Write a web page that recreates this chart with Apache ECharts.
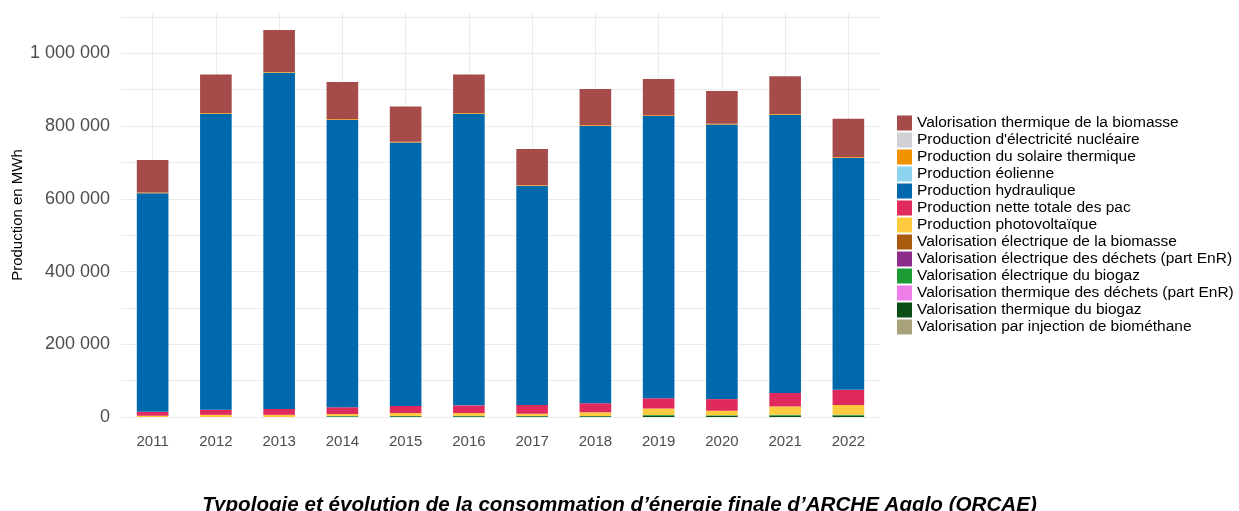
<!DOCTYPE html>
<html>
<head>
<meta charset="utf-8">
<script src="https://cdn.jsdelivr.net/npm/echarts@6/dist/echarts.min.js"></script>
<style>
  html, body { margin: 0; padding: 0; background: #ffffff; }
  #chart { width: 1239px; height: 511px; }
</style>
</head>
<body>
<div id="chart"></div>
<script>
// années
const years = ["2011", "2012", "2013", "2014", "2015", "2016", "2017", "2018", "2019", "2020", "2021", "2022"];

// valeurs en MWh
const thermiqueBiomasse = [89000, 106000, 115000, 102000, 97000, 106000, 100000, 99000, 100000, 90000, 104000, 105000];
const nucleaire = [0, 0, 0, 0, 0, 0, 0, 0, 0, 0, 0, 0];
const solaireThermique = [2000, 2000, 2000, 2000, 2000, 2000, 2000, 2000, 2000, 2000, 2000, 2000];
const eolien = [0, 0, 0, 0, 0, 0, 0, 0, 0, 0, 0, 0];
const hydraulique = [601000, 814000, 925000, 791000, 725000, 802000, 602000, 763000, 776000, 755000, 765000, 638000];
const pac = [11000, 14000, 16000, 18000, 19000, 21000, 24000, 25000, 28000, 32000, 37000, 42000];
const photovoltaique = [3500, 6000, 6000, 6000, 8000, 8000, 6000, 10000, 18000, 12500, 23000, 27000];
const electriqueBiomasse = [0, 0, 0, 0, 0, 0, 0, 0, 0, 0, 0, 0];
const electriqueDechets = [0, 0, 0, 0, 0, 0, 0, 0, 0, 0, 0, 0];
const electriqueBiogaz = [0, 0, 0, 1000, 1000, 1000, 1000, 1000, 2000, 1700, 2000, 2000];
const thermiqueDechets = [0, 0, 0, 0, 0, 0, 0, 0, 0, 0, 0, 0];
const thermiqueBiogaz = [0, 0, 0, 1500, 2000, 2000, 2000, 2000, 3500, 3000, 4000, 4000];
const injectionBiomethane = [0, 0, 0, 0, 0, 0, 0, 0, 0, 0, 0, 0];

// ordre d'empilement : du bas vers le haut
const stackSeries = [
  { name: "Valorisation par injection de biométhane", data: injectionBiomethane, color: "#A8A27A" },
  { name: "Valorisation thermique du biogaz", data: thermiqueBiogaz, color: "#0B4F16" },
  { name: "Valorisation thermique des déchets (part EnR)", data: thermiqueDechets, color: "#F07EE8" },
  { name: "Valorisation électrique du biogaz", data: electriqueBiogaz, color: "#1F9B35" },
  { name: "Valorisation électrique des déchets (part EnR)", data: electriqueDechets, color: "#8E2C8B" },
  { name: "Valorisation électrique de la biomasse", data: electriqueBiomasse, color: "#AA5A0F" },
  { name: "Production photovoltaïque", data: photovoltaique, color: "#FECB3F" },
  { name: "Production nette totale des pac", data: pac, color: "#E0295D" },
  { name: "Production hydraulique", data: hydraulique, color: "#0069AD" },
  { name: "Production éolienne", data: eolien, color: "#8DD3EE" },
  { name: "Production du solaire thermique", data: solaireThermique, color: "#F39200" },
  { name: "Production d'électricité nucléaire", data: nucleaire, color: "#D0D0D5" },
  { name: "Valorisation thermique de la biomasse", data: thermiqueBiomasse, color: "#A54B4A" },
];

function formatNombre(v) {
  return String(v).replace(/\B(?=(\d{3})+(?!\d))/g, " ");
}

const chart = echarts.init(document.getElementById("chart"));

const option = {
  animation: false,
  backgroundColor: "#ffffff",
  title: {
    text: "Typologie et évolution de la consommation d’énergie finale d’ARCHE Agglo (ORCAE)",
    left: "center",
    top: 490,
    textStyle: {
      fontFamily: "Liberation Sans, Arial, sans-serif",
      fontStyle: "italic",
      fontWeight: "bold",
      fontSize: 20.6,
      color: "#000000",
    },
  },
  legend: {
    orient: "vertical",
    left: 892,
    top: 110,
    icon: "rect",
    itemWidth: 15,
    itemHeight: 15,
    itemGap: 1,
    // légende dans l'ordre inverse de l'empilement
    data: stackSeries.map((s) => s.name).reverse(),
    textStyle: {
      fontFamily: "Liberation Sans, Arial, sans-serif",
      fontSize: 15.5,
      lineHeight: 16,
      color: "#000000",
    },
  },
  grid: {
    left: 121,
    right: 359,
    top: 13,
    bottom: 94,
    outerBoundsMode: "none",
  },
  xAxis: {
    type: "category",
    data: years,
    axisLine: { show: false },
    axisTick: { show: false, alignWithLabel: true },
    splitLine: {
      show: true,
      interval: 0,
      alignWithLabel: true,
      lineStyle: { color: "#ebebeb", width: 1 },
    },
    axisLabel: {
      margin: 17,
      fontFamily: "Liberation Sans, Arial, sans-serif",
      fontSize: 15,
      color: "#4d4d4d",
    },
  },
  yAxis: {
    type: "value",
    min: 0,
    max: 1111000,
    interval: 100000,
    name: "Production en MWh",
    nameLocation: "middle",
    nameRotate: 90,
    nameGap: 96,
    nameMoveOverlap: false,
    nameTextStyle: {
      fontFamily: "Liberation Sans, Arial, sans-serif",
      fontSize: 15,
      color: "#000000",
    },
    axisLine: { show: false },
    axisTick: { show: false },
    splitLine: {
      showMaxLine: false,
      lineStyle: { color: "#ebebeb", width: 1 },
    },
    axisLabel: {
      margin: 11,
      fontFamily: "Liberation Sans, Arial, sans-serif",
      fontSize: 18,
      color: "#4d4d4d",
      showMaxLabel: false,
      formatter: (v) => (v % 200000 === 0 ? formatNombre(v) : ""),
    },
  },
  series: stackSeries.map((s) => ({
    name: s.name,
    type: "bar",
    stack: "total",
    barWidth: "50%",
    data: s.data,
    itemStyle: { color: s.color },
  })),
};

chart.setOption(option);
</script>
</body>
</html>
